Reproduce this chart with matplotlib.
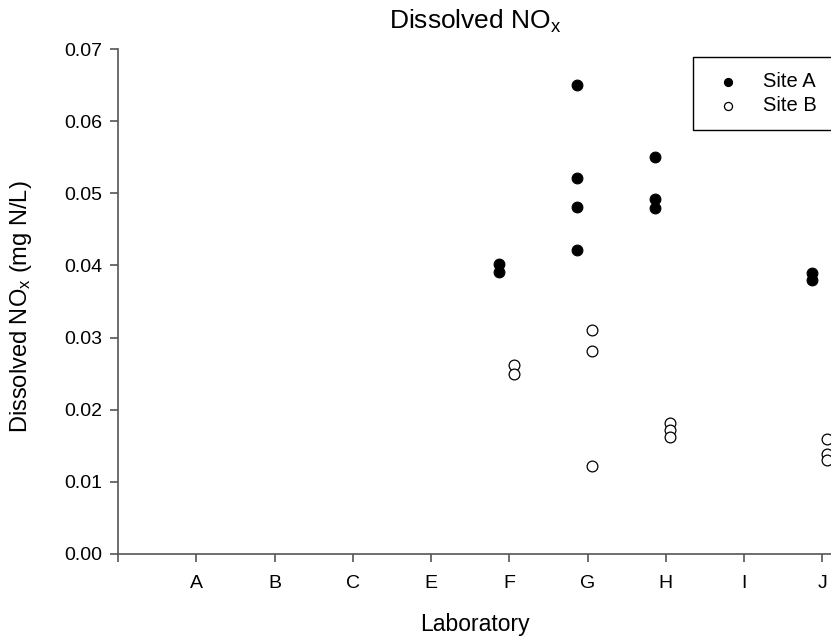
import numpy as np
import matplotlib
matplotlib.use("Agg")
import matplotlib.pyplot as plt

# laboratories on the x axis (position 0 is the empty origin tick)
labs = ['A', 'B', 'C', 'E', 'F', 'G', 'H', 'I', 'J']

# Site A (filled) and Site B (open) results, by laboratory
siteA_lab = ['F', 'F', 'G', 'G', 'G', 'G', 'H', 'H', 'H', 'J', 'J']
siteA_val = [0.0402, 0.0391, 0.0650, 0.0521, 0.0481, 0.0421, 0.0550, 0.0492, 0.0480, 0.0390, 0.0380]
siteB_lab = ['F', 'F', 'G', 'G', 'G', 'H', 'H', 'H', 'J', 'J', 'J']
siteB_val = [0.0262, 0.0250, 0.0311, 0.0281, 0.0122, 0.0182, 0.0172, 0.0162, 0.0160, 0.0138, 0.0130]

yticks = [0.00, 0.01, 0.02, 0.03, 0.04, 0.05, 0.06, 0.07]

plt.rcParams['font.family'] = ['Liberation Sans', 'DejaVu Sans']
plt.rcParams['mathtext.default'] = 'regular'

W, H = 831, 638
fig = plt.figure(figsize=(W / 100, H / 100), dpi=100)
# axes run past the right edge of the picture, as in the reference
ax = fig.add_axes([118 / W, 1 - 554 / H, 782.5 / W, 505 / H])

pos = {lab: i + 1 for i, lab in enumerate(labs)}
xa = np.array([pos[l] for l in siteA_lab]) - 0.135
xb = np.array([pos[l] for l in siteB_lab]) + 0.06

ax.scatter(xa, siteA_val, s=60, c='black', edgecolors='black', linewidths=0.8,
           label='Site A', zorder=3, clip_on=False)
ax.scatter(xb, siteB_val, s=60, facecolors='white', edgecolors='black', linewidths=0.9,
           label='Site B', zorder=3, clip_on=False)

ax.set_xlim(0, 10)
ax.set_ylim(0, 0.07)
ax.set_xticks(range(0, len(labs) + 1))
ax.set_xticklabels([''] + labs)
ax.set_yticks(yticks)
ax.set_yticklabels([f'{v:.2f}' for v in yticks])

for side in ['top', 'right']:
    ax.spines[side].set_visible(False)
for side in ['left', 'bottom']:
    ax.spines[side].set_color('#555555')
    ax.spines[side].set_linewidth(1.2)
ax.tick_params(axis='both', direction='out', length=6, width=1.2, color='#555555',
               labelsize=14, labelcolor='black')
ax.tick_params(axis='x', pad=9)
ax.tick_params(axis='y', pad=5)

ax.set_xlabel('Laboratory', fontsize=16.5)
ax.xaxis.set_label_coords((475 - 118) / 782.5, (554 - 613) / 505)
ax.set_ylabel('Dissolved NO$_x$ (mg N/L)', fontsize=17)
ax.yaxis.set_label_coords((34 - 118) / 782.5, (554 - 307) / 505)

fig.text(475 / W, 1 - 21 / H, 'Dissolved NO$_x$', fontsize=19, ha='center', va='center')

leg = ax.legend(loc='upper left', bbox_to_anchor=(693 / W, 1 - 131 / H, 0.2, 74 / H),
                bbox_transform=fig.transFigure, mode='expand', fontsize=14.5,
                fancybox=False, edgecolor='black', framealpha=1, borderpad=0.75,
                labelspacing=0.25, handlelength=2.0, handletextpad=0.75,
                borderaxespad=0, markerscale=0.75)
leg.get_frame().set_linewidth(1.0)

fig.savefig('out.png', dpi=100)
